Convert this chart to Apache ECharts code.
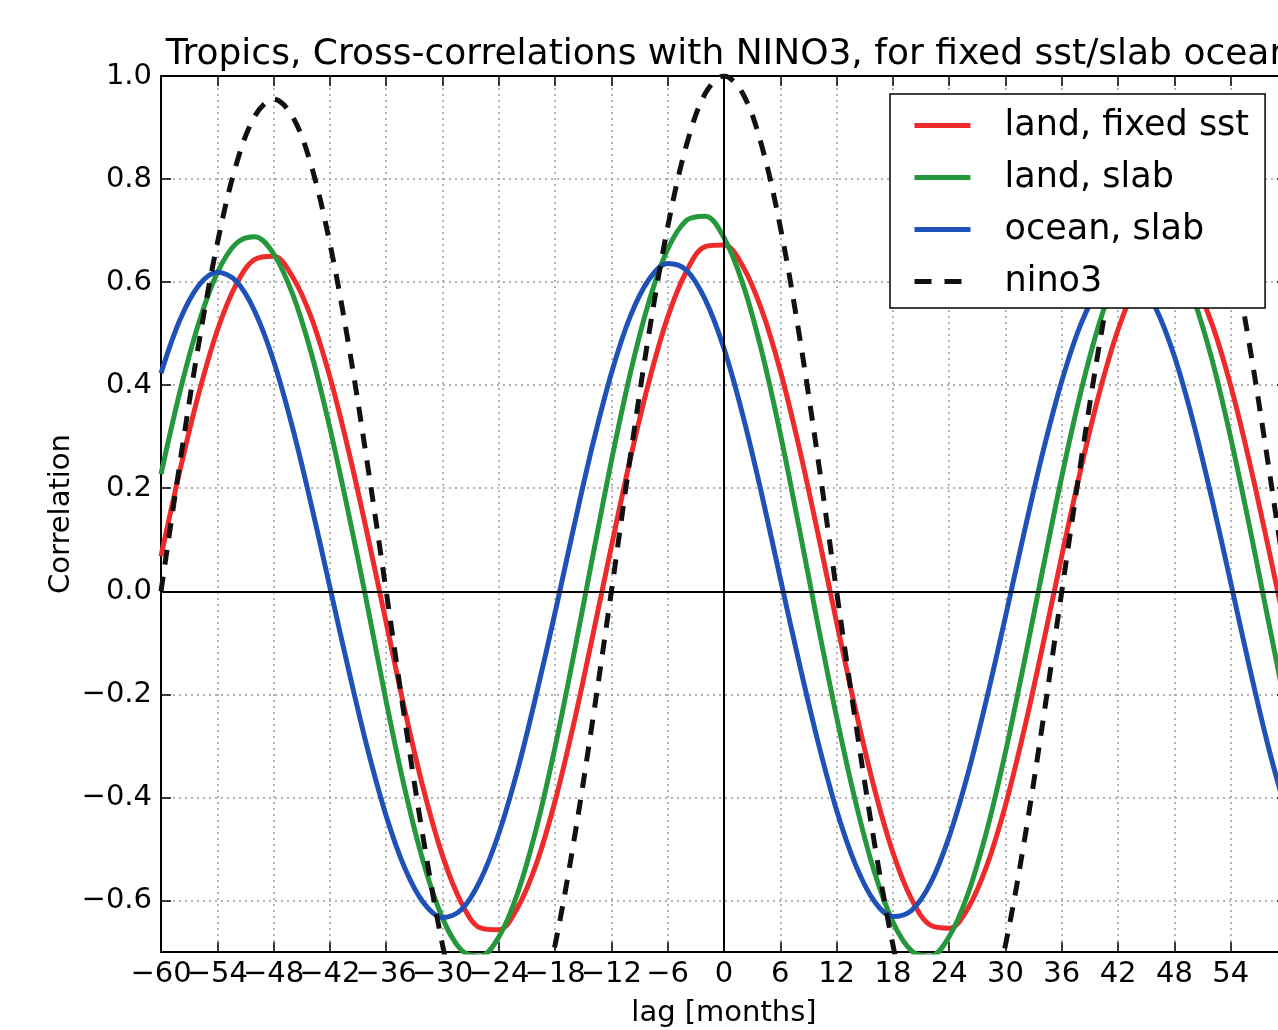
<!DOCTYPE html>
<html>
<head>
<meta charset="utf-8">
<title>Tropics cross-correlations</title>
<script src="https://cdn.jsdelivr.net/npm/echarts@6/dist/echarts.min.js"></script>
<style>
  html, body { margin: 0; padding: 0; background: #fff; }
  #chart { width: 1278px; height: 1030px; }
</style>
</head>
<body>
<div id="chart"></div>
<script>
// lag in months, every 2 months
var lags = [-60, -58, -56, -54, -52, -50, -48, -46, -44, -42, -40, -38, -36, -34, -32, -30, -28, -26, -24, -22, -20,
  -18, -16, -14, -12, -10, -8, -6, -4, -2, 0, 2, 4, 6, 8, 10, 12, 14, 16, 18, 20,
  22, 24, 26, 28, 30, 32, 34, 36, 38, 40, 42, 44, 46, 48, 50, 52, 54, 56, 58, 60];

var landFixedSst = [0.068, 0.233, 0.382, 0.506, 0.595, 0.644, 0.650, 0.611, 0.532, 0.416, 0.272, 0.110, -0.061, -0.232, -0.386, -0.513, -0.604, -0.653, -0.657, -0.614, -0.529,
  -0.407, -0.256, -0.087, 0.087, 0.256, 0.407, 0.532, 0.621, 0.669, 0.672, 0.631, 0.547, 0.428, 0.280, 0.113, -0.060, -0.228, -0.381, -0.507, -0.598,
  -0.648, -0.654, -0.615, -0.533, -0.415, -0.268, -0.103, 0.069, 0.235, 0.385, 0.508, 0.596, 0.643, 0.645, 0.603, 0.519, 0.399, 0.251, 0.086, -0.086];

var landSlab = [0.227, 0.386, 0.519, 0.618, 0.675, 0.688, 0.655, 0.578, 0.463, 0.317, 0.150, -0.028, -0.214, -0.385, -0.528, -0.634, -0.696, -0.708, -0.671, -0.586, -0.460,
  -0.302, -0.122, 0.067, 0.253, 0.422, 0.562, 0.664, 0.720, 0.728, 0.686, 0.597, 0.467, 0.306, 0.124, -0.064, -0.244, -0.407, -0.543, -0.642, -0.698,
  -0.708, -0.670, -0.587, -0.465, -0.312, -0.137, 0.045, 0.223, 0.385, 0.520, 0.620, 0.677, 0.688, 0.652, 0.570, 0.450, 0.298, 0.126, -0.056, -0.237];

var oceanSlab = [0.423, 0.526, 0.593, 0.619, 0.602, 0.543, 0.447, 0.319, 0.169, 0.008, -0.153, -0.305, -0.436, -0.538, -0.605, -0.633, -0.618, -0.562, -0.470, -0.347, -0.200,
  -0.041, 0.125, 0.284, 0.423, 0.533, 0.605, 0.636, 0.623, 0.566, 0.471, 0.342, 0.190, 0.025, -0.138, -0.291, -0.425, -0.530, -0.601, -0.631, -0.619,
  -0.567, -0.476, -0.354, -0.208, -0.049, 0.115, 0.271, 0.408, 0.517, 0.589, 0.619, 0.606, 0.550, 0.456, 0.329, 0.179, 0.017, -0.147, -0.301, -0.434];

var nino3 = [0, 0.247, 0.478, 0.675, 0.827, 0.922, 0.955, 0.922, 0.827, 0.675, 0.478, 0.247, 0, -0.251, -0.485, -0.686, -0.840, -0.937, -0.970, -0.937, -0.840,
  -0.686, -0.485, -0.251, 0, 0.259, 0.500, 0.707, 0.866, 0.966, 1.000, 0.966, 0.866, 0.707, 0.500, 0.259, 0, -0.251, -0.485, -0.686, -0.840,
  -0.937, -0.970, -0.937, -0.840, -0.686, -0.485, -0.251, 0, 0.247, 0.478, 0.675, 0.827, 0.922, 0.955, 0.922, 0.827, 0.675, 0.478, 0.247, 0];

var seriesNames = ['land, fixed sst', 'land, slab', 'ocean, slab', 'nino3'];
var yTicks = [-0.6, -0.4, -0.2, 0.0, 0.2, 0.4, 0.6, 0.8, 1.0];
// x tick labels, split in two sets so neighbours never collide
var xLabelsA = [-60, -48, -36, -24, -12, 0, 12, 24, 36, 48];
var xLabelsB = [-54, -42, -30, -18, -6, 6, 18, 30, 42, 54];

var FONT = 'DejaVu Sans';

function pairs(vals) {
  return lags.map(function(l, i) { return [l, vals[i]]; });
}
function minus(s) {
  return String(s).replace('-', '\u2212');
}

var chart = echarts.init(document.getElementById('chart'), null, { renderer: 'canvas' });

var gridLine = { show: true, lineStyle: { color: '#9a9a9a', width: 1.5, type: [2, 4] } };
var tick = { show: true, inside: true, length: 10, lineStyle: { color: '#000', width: 1.5 } };
var spine = { show: true, onZero: false, lineStyle: { color: '#000', width: 2 } };

function lineSeries(name, vals, color, dashed) {
  return {
    name: name,
    type: 'line',
    data: pairs(vals),
    smooth: 0.35,
    symbol: 'none',
    clip: true,
    z: 3,
    lineStyle: { color: color, width: 5, type: dashed ? [15, 12] : 'solid' },
    itemStyle: { color: color }
  };
}

function xLabel(values) {
  return {
    fontFamily: FONT, fontSize: 29, color: '#000', margin: 8,
    customValues: values,
    formatter: function(v) { return minus(v); }
  };
}

var series = [
  lineSeries(seriesNames[0], landFixedSst, '#ee2a2b', false),
  lineSeries(seriesNames[1], landSlab, '#24983a', false),
  lineSeries(seriesNames[2], oceanSlab, '#1f52b9', false),
  lineSeries(seriesNames[3], nino3, '#111', true)
];
// zero lines
series[3].markLine = {
  silent: true,
  symbol: ['none', 'none'],
  label: { show: false },
  lineStyle: { color: '#000', width: 2, type: 'solid' },
  data: [{ xAxis: 0 }, { yAxis: 0 }]
};

var option = {
  animation: false,
  backgroundColor: '#fff',
  textStyle: { fontFamily: FONT },
  title: {
    text: 'Tropics, Cross-correlations with NINO3, for fixed sst/slab ocean',
    left: 724,
    top: 32,
    textAlign: 'center',
    textStyle: { fontFamily: FONT, fontSize: 36, fontWeight: 'normal', color: '#000' }
  },
  grid: { left: 161, top: 76, width: 1126, height: 876, containLabel: false, outerBoundsMode: 'none' },
  legend: {
    orient: 'vertical',
    left: 890,
    top: 94,
    data: [seriesNames[0], seriesNames[1], seriesNames[2],
      { name: seriesNames[3], lineStyle: { type: [17, 13] } }],
    backgroundColor: '#fff',
    borderColor: '#000',
    borderWidth: 1.5,
    padding: [14, 16, 9, 22],
    itemWidth: 56,
    itemHeight: 30,
    itemGap: 17,
    z: 10,
    itemStyle: { opacity: 0, borderWidth: 0 },
    lineStyle: { width: 5 },
    textStyle: { fontFamily: FONT, fontSize: 35, color: '#000', lineHeight: 30, padding: [0, 0, 0, 29] }
  },
  xAxis: [{
    type: 'value',
    position: 'bottom',
    min: -60, max: 60, interval: 6,
    axisLine: spine,
    axisTick: tick,
    splitLine: gridLine,
    axisLabel: xLabel(xLabelsA),
    name: 'lag [months]',
    nameLocation: 'middle',
    nameGap: 47,
    nameMoveOverlap: false,
    nameTextStyle: { fontFamily: FONT, fontSize: 29, color: '#000' }
  }, {
    type: 'value',
    position: 'bottom',
    min: -60, max: 60, interval: 6,
    axisLine: { show: false },
    axisTick: { show: false },
    splitLine: { show: false },
    axisLabel: xLabel(xLabelsB)
  }, {
    type: 'value',
    position: 'top',
    min: -60, max: 60, interval: 6,
    axisLine: spine,
    axisTick: tick,
    splitLine: { show: false },
    axisLabel: { show: false }
  }],
  yAxis: [{
    type: 'value',
    position: 'left',
    min: -0.7, max: 1.0, splitNumber: 8,
    axisLine: spine,
    axisTick: Object.assign({ customValues: yTicks }, tick),
    splitLine: gridLine,
    axisLabel: {
      fontFamily: FONT, fontSize: 29, color: '#000', margin: 9,
      customValues: yTicks,
      formatter: function(v) { return minus(v.toFixed(1)); }
    },
    name: 'Correlation',
    nameLocation: 'middle',
    nameGap: 85,
    nameMoveOverlap: false,
    nameTextStyle: { fontFamily: FONT, fontSize: 29, color: '#000' }
  }, {
    type: 'value',
    position: 'right',
    min: -0.7, max: 1.0, splitNumber: 8,
    axisLine: spine,
    axisTick: Object.assign({ customValues: yTicks }, tick),
    splitLine: { show: false },
    axisLabel: { show: false }
  }],
  series: series
};

chart.setOption(option);
</script>
</body>
</html>
